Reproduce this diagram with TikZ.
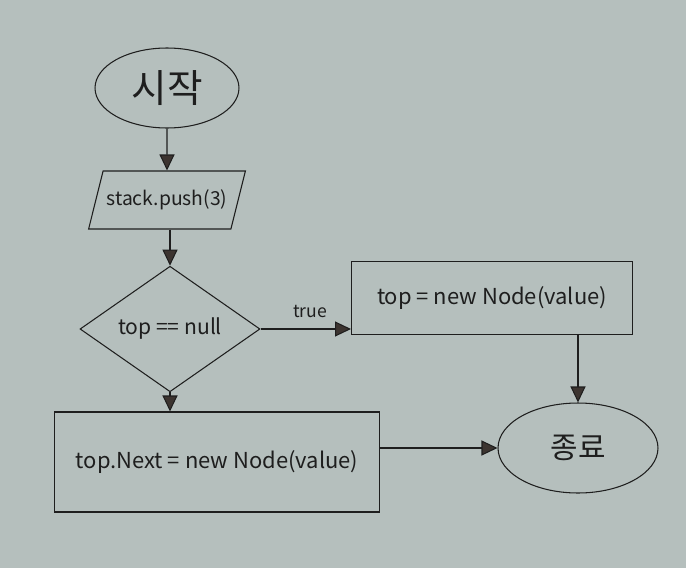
\documentclass[tikz,border=0pt]{standalone}
\usepackage{fontspec}
\setmainfont{Noto Sans CJK KR}[Scale=1]
\usetikzlibrary{positioning, arrows.meta, shapes.geometric}
\definecolor{paper}{RGB}{181,191,189}
\definecolor{ink}{RGB}{30,30,30}
\definecolor{tip}{RGB}{60,52,48}

\begin{document}
\begin{tikzpicture}[
    x=0.02cm, y=-0.02cm,
    draw=ink, text=ink, line width=0.6pt,
    term/.style={draw, ellipse, inner sep=0pt},
    io/.style={draw, trapezium, trapezium left angle=62, trapezium right angle=118,
               minimum width=3cm, minimum height=1.16cm, inner sep=2pt,
               trapezium stretches=true, font=\fontsize{11}{13}\selectfont},
    cond/.style={draw, diamond, minimum width=3.6cm, minimum height=1.84cm,
                 inner sep=0pt, font=\fontsize{12}{14}\selectfont},
    proc/.style={draw, rectangle, inner sep=2pt, font=\fontsize{12.5}{14}\selectfont},
    ar/.style={-{Triangle[length=3.2mm, width=3mm, fill=tip]}, draw=ink},
  ]
  \fill[paper] (0,0) rectangle (686,568);
  \useasboundingbox (0,0) rectangle (686,568);

  % ---- main column
  \node[term, minimum width=2.88cm, minimum height=1.6cm,
        font=\fontsize{22}{24}\selectfont] (start) at (167,88) {시작};
  \node[io] (push) at (167,200) {stack.push(3)};
  \node[cond] (test) at (170,329) {top == null};
  \node[proc, minimum width=6.5cm, minimum height=2cm] (next) at (217,462)
    {top.Next = new Node(value)};

  % ---- right column
  \node[proc, minimum width=5.62cm, minimum height=1.46cm] (newtop) at (492,298)
    {top = new Node(value)};
  \node[term, minimum width=3.2cm, minimum height=1.8cm,
        font=\fontsize{17}{19}\selectfont] (stop) at (578,448) {종료};

  \draw[ar] (start) -- (push);
  \draw[ar] (push.south -| test.north) -- (test.north);
  \draw[ar] (test.east) -- node[above=3pt, font=\fontsize{10}{11}\selectfont, pos=0.55] {true}
    (newtop.west |- test.east);
  \draw[ar] (newtop.south -| stop) -- (stop);
  \draw[ar] (test.south) -- (test.south |- next.north);
  \draw[ar] (next.east |- stop.west) -- (stop.west);
\end{tikzpicture}
\end{document}
